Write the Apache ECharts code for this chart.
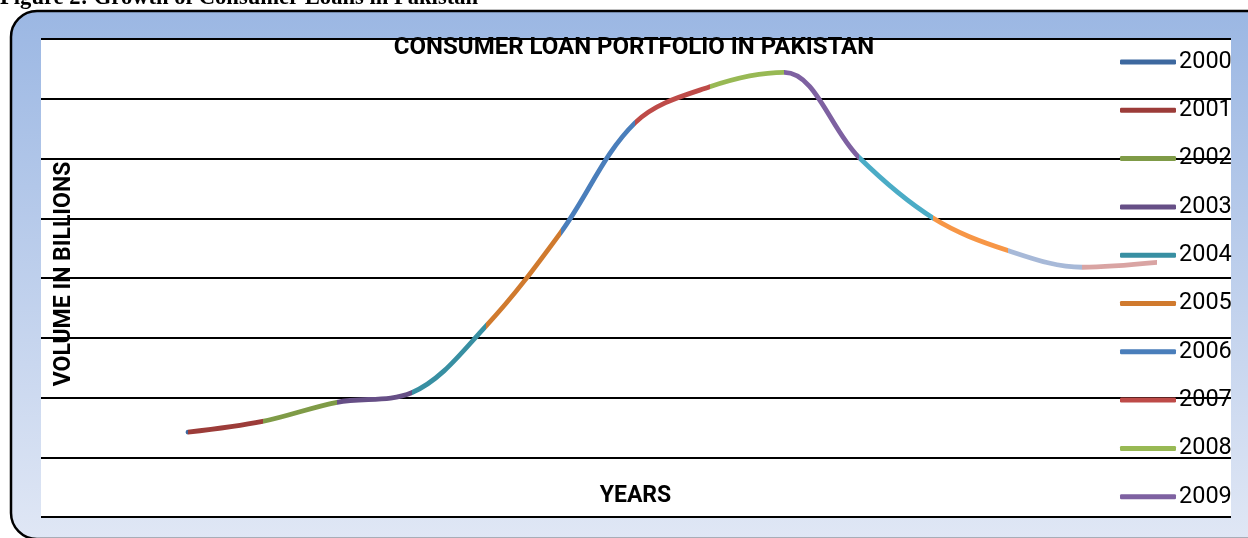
<!DOCTYPE html>
<html>
<head>
<meta charset="utf-8">
<title>Consumer Loan Portfolio in Pakistan</title>
<script src="https://cdn.jsdelivr.net/npm/echarts@6/dist/echarts.min.js"></script>
<style>
  html, body { margin: 0; padding: 0; background: #fff; }
  #main { width: 1248px; height: 538px; }
</style>
</head>
<body>
<div id="main"></div>
<script>
// data (no tick labels in the original, so the scale is arbitrary)
var years = ["2000", "2001", "2002", "2003", "2004", "2005", "2006", "2007", "2008", "2009", "2010", "2011", "2012", "2013"];
var volume = [71, 80, 96, 104, 160, 238, 330, 360, 372, 301, 250, 223, 209, 213];
// excel "vary colors by point" palette
var pointColors = [
  "#3d689f", "#9c3c39", "#7f9b47", "#664f86", "#388fa2", "#d07a2e", "#4a7ebb",
  "#be4b48", "#98b954", "#7e61a1", "#4bacc6", "#f79646", "#a7b9d8", "#d9a4a3",
];
var legendYears = years.slice(0, 10);
var yMax = 400;
var yStep = 50;

var chart = echarts.init(document.getElementById("main"));

// each segment takes the colour of the point it ends on
var pieces = [{ lte: 0, color: pointColors[0] }];
for (var i = 1; i < years.length; i++) {
  pieces.push({ gt: i - 1, lte: i, color: pointColors[i] });
}

var series = [
  {
    name: "Consumer loans",
    type: "line",
    xAxisIndex: 1,
    yAxisIndex: 1,
    smooth: 0.35,
    showSymbol: false,
    lineStyle: { width: 4.8, cap: "round", join: "round" },
    data: volume,
    z: 5,
  },
];
// empty series only so the legend gets its entries
legendYears.forEach(function (y, idx) {
  series.push({
    name: y,
    type: "line",
    xAxisIndex: 1,
    yAxisIndex: 1,
    data: [],
    itemStyle: { color: pointColors[idx] },
    lineStyle: { color: pointColors[idx] },
  });
});

var font = "Roboto, 'Liberation Sans', sans-serif";

var option = {
  backgroundColor: "#fff",
  animation: false,
  graphic: [
    {
      type: "text",
      z: 20,
      style: {
        text: "Figure 2: Growth of Consumer Loans in Pakistan",
        x: 0,
        y: -1.5,
        fill: "#000",
        font: "bold 22.6px 'Liberation Serif', 'DejaVu Serif', serif",
        verticalAlign: "middle",
      },
    },
    {
      type: "rect",
      z: -10,
      shape: { x: 11, y: 11, width: 1300, height: 528, r: 26 },
      style: {
        fill: new echarts.graphic.LinearGradient(0, 0, 0, 1, [
          { offset: 0, color: "#9bb7e3" },
          { offset: 1, color: "#e0e7f5" },
        ]),
        stroke: "#000",
        lineWidth: 2.5,
      },
    },
    {
      type: "rect",
      z: -9,
      shape: { x: 41, y: 39, width: 1190, height: 478 },
      style: { fill: "#fff" },
    },
    {
      type: "text",
      z: 20,
      style: {
        text: "CONSUMER LOAN PORTFOLIO IN PAKISTAN",
        x: 634,
        y: 47.5,
        fill: "#000",
        font: "bold 24px " + font,
        align: "center",
        verticalAlign: "middle",
      },
    },
    {
      type: "text",
      z: 20,
      style: {
        text: "YEARS",
        x: 635.5,
        y: 496.5,
        fill: "#000",
        font: "bold 23px " + font,
        align: "center",
        verticalAlign: "middle",
      },
    },
    {
      type: "text",
      z: 20,
      x: 64,
      y: 274,
      rotation: Math.PI / 2,
      style: {
        text: "VOLUME IN BILLIONS",
        x: 0,
        y: 0,
        fill: "#000",
        font: "bold 23px " + font,
        align: "center",
        verticalAlign: "middle",
      },
    },
  ],
  legend: {
    orient: "vertical",
    left: 1120,
    top: 50,
    padding: 0,
    itemWidth: 56,
    itemHeight: 5,
    itemGap: 24.3,
    icon: "roundRect",
    selectedMode: false,
    textStyle: { color: "#000", fontSize: 23.5, lineHeight: 22, fontFamily: font, padding: [0, 0, 0, -2] },
    data: legendYears,
  },
  visualMap: {
    type: "piecewise",
    show: false,
    dimension: 0,
    seriesIndex: 0,
    pieces: pieces,
  },
  grid: [
    // full width grid only for the horizontal rules
    { left: 41, right: 17, top: 39, height: 478 },
    // grid holding the line
    { left: 188, right: 91, top: 39, height: 478 },
  ],
  xAxis: [
    { gridIndex: 0, type: "category", data: years, show: false },
    {
      gridIndex: 1,
      type: "category",
      boundaryGap: false,
      data: years,
      axisLine: { show: false },
      axisTick: { show: false },
      axisLabel: { show: false },
    },
  ],
  yAxis: [
    {
      gridIndex: 0,
      type: "value",
      min: 0,
      max: yMax,
      interval: yStep,
      axisLine: { show: false },
      axisTick: { show: false },
      axisLabel: { show: false },
      splitLine: { show: true, lineStyle: { color: "#000", width: 2 } },
    },
    {
      gridIndex: 1,
      type: "value",
      min: 0,
      max: yMax,
      interval: yStep,
      axisLine: { show: false },
      axisTick: { show: false },
      axisLabel: { show: false },
      splitLine: { show: false },
    },
  ],
  series: series,
};
chart.setOption(option);
</script>
</body>
</html>
